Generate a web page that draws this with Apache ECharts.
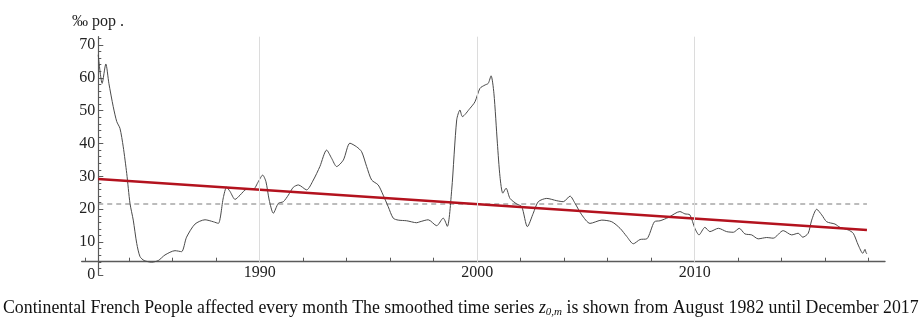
<!DOCTYPE html>
<html>
<head>
<meta charset="utf-8">
<script src="https://cdn.jsdelivr.net/npm/echarts@6/dist/echarts.min.js"></script>
<style>html,body{margin:0;padding:0;background:#fff}#c{width:923px;height:322px}</style>
</head>
<body>
<div id="c"></div>
<script>
const years = [1982.58,1982.76,1982.93,1983.07,1983.27,1983.43,1983.58,1983.73,1983.89,1984.04,1984.19,1984.35,1984.50,1984.69,1985.04,1985.34,1985.65,1986.11,1986.41,1986.64,1987.03,1987.49,1987.87,1988.10,1988.33,1988.48,1988.64,1988.87,1989.10,1989.40,1989.71,1989.94,1990.14,1990.29,1990.44,1990.63,1990.86,1991.09,1991.32,1991.55,1991.78,1992.16,1992.47,1992.77,1993.08,1993.31,1993.54,1993.85,1994.15,1994.46,1994.69,1994.92,1995.15,1995.45,1995.68,1995.91,1996.14,1996.37,1996.76,1997.22,1997.37,1997.75,1998.14,1998.44,1998.63,1998.83,1999.06,1999.21,1999.32,1999.67,1999.90,2000.13,2000.36,2000.51,2000.64,2000.77,2000.93,2001.05,2001.18,2001.33,2001.51,2001.82,2002.05,2002.31,2002.58,2002.81,2003.20,2003.66,2003.96,2004.27,2004.50,2004.81,2005.19,2005.73,2006.19,2006.57,2006.88,2007.18,2007.49,2007.80,2008.15,2008.41,2008.79,2009.32,2009.55,2009.78,2010.01,2010.20,2010.47,2010.70,2011.09,2011.47,2011.78,2012.05,2012.31,2012.62,2012.92,2013.31,2013.61,2014.07,2014.46,2014.76,2014.97,2015.22,2015.38,2015.61,2015.84,2016.07,2016.45,2016.68,2017.06,2017.29,2017.52,2017.73,2017.83,2017.88,2017.92];
const rate = [67.0,58.3,64.2,58.3,51.2,46.7,44.6,39.0,30.9,21.8,16.7,9.6,5.6,4.4,3.9,4.4,6.1,7.4,7.1,11.5,15.5,16.8,16.2,15.7,23.5,26.7,25.4,23.0,24.3,26.1,26.1,28.4,30.4,28.4,22.8,18.8,21.8,22.3,24.3,26.7,27.4,25.9,28.9,33.0,38.0,35.5,33.0,35.0,40.1,39.0,37.5,33.0,28.9,27.4,24.3,20.8,17.3,16.7,16.5,15.9,16.2,16.8,15.0,17.3,14.8,25.9,47.2,50.2,48.2,50.7,52.7,56.8,57.8,58.3,60.6,55.3,40.1,29.9,24.9,26.4,23.3,21.6,20.8,14.7,18.8,22.3,23.3,22.6,22.3,24.0,21.8,18.3,15.7,16.7,16.2,14.2,11.7,9.5,10.8,11.0,16.2,16.5,17.5,19.3,18.6,18.3,14.2,12.2,14.5,13.2,14.2,13.2,13.0,14.2,12.5,12.2,11.0,11.4,11.2,13.5,12.2,12.7,11.5,12.7,16.7,20.0,18.3,16.2,15.5,14.5,13.7,12.7,9.1,6.6,7.8,6.8,6.4];
const meanLevel = 21.6;
const trendStart = 29.2, trendEnd = 13.7;
const dataStart = 1982.58, dataEnd = 2017.92;
const xLabelYears = [1990, 2000, 2010];
const xTickYears = [1982,1984,1986,1988,1990,1992,1994,1996,1998,2000,2002,2004,2006,2008,2010,2012,2014,2016,2018];
const yLabelValues = [0,10,20,30,40,50,60,70];
const yMinorValues = [2,4,6,8,12,14,16,18,22,24,26,28,32,34,36,38,42,44,46,48,52,54,56,58,62,64,66,68,72];
const gridYears = [1990, 2000, 2010];

const serif = 'Liberation Serif';
const seriesData = years.map((y, i) => [y, rate[i]]);
const xMin = 1981.82, xMax = 2018.75, yMin = 0, yMax = 72.5, xAxisLevel = 4;

const chart = echarts.init(document.getElementById('c'), null, {renderer: 'canvas'});
const cap = {fontFamily: serif, fontSize: 17.8, fontWeight: 'normal', color: '#111'};
chart.setOption({
  animation: false,
  backgroundColor: '#fff',
  title: [
    {text: '‰ pop .', left: 72, top: 14, padding: 0,
     textStyle: {fontFamily: serif, fontSize: 16, fontWeight: 'normal', color: '#222'}},
    {left: 3, top: 298, padding: 0,
     text: '{n|Continental French People affected every month The smoothed time series }{i|z}{s|0,m}{n| is shown from August 1982 until December 2017}',
     textStyle: {fontWeight: 'normal', rich: {
       n: cap,
       i: Object.assign({}, cap, {fontStyle: 'italic'}),
       s: Object.assign({}, cap, {fontSize: 11, fontStyle: 'italic', padding: [9, 0, 0, 0]})
     }}}
  ],
  grid: {left: 81.7, right: 38, top: 36.7, bottom: 47, outerBoundsMode: 'none', containLabel: false},
  xAxis: {
    type: 'value', min: xMin, max: xMax, position: 'bottom', offset: -13.3,
    splitLine: {show: false},
    axisLine: {onZero: false, lineStyle: {color: '#5a5a5a', width: 1.4}},
    axisTick: {inside: true, length: 4, customValues: xTickYears, lineStyle: {color: '#5a5a5a', width: 1}},
    axisLabel: {customValues: xLabelYears, margin: 3, fontFamily: serif, fontSize: 16, color: '#222',
                formatter: v => String(Math.round(v))}
  },
  yAxis: [{
    type: 'value', min: yMin, max: yMax, position: 'left', offset: -16.6,
    splitLine: {show: false},
    axisLine: {onZero: false, lineStyle: {color: '#5a5a5a', width: 1.2}},
    axisTick: {inside: true, length: 5, customValues: yLabelValues, lineStyle: {color: '#5a5a5a', width: 1}},
    axisLabel: {customValues: yLabelValues, margin: 3, fontFamily: serif, fontSize: 16, color: '#222'}
  }, {
    type: 'value', min: yMin, max: yMax, position: 'left', offset: -16.6,
    splitLine: {show: false},
    axisLine: {show: false, onZero: false},
    axisTick: {inside: true, length: 3, customValues: yMinorValues, lineStyle: {color: '#5a5a5a', width: 1}},
    axisLabel: {show: false}
  }],
  series: [
    {
      type: 'line', data: seriesData, showSymbol: false, smooth: 0.25,
      lineStyle: {color: '#4a4a4a', width: 1}, z: 3,
      markLine: {
        silent: true, symbol: 'none', label: {show: false},
        lineStyle: {color: '#dcdcdc', width: 1, type: 'solid'},
        data: gridYears.map(g => [{coord: [g, xAxisLevel]}, {coord: [g, yMax]}])
      }
    },
    {
      type: 'line', data: [[dataStart, meanLevel], [dataEnd, meanLevel]], showSymbol: false,
      lineStyle: {color: '#7a7a7a', width: 1.2, type: [5, 4]}, z: 2
    },
    {
      type: 'line', data: [[dataStart, trendStart], [dataEnd, trendEnd]], showSymbol: false,
      lineStyle: {color: '#b3121e', width: 2.6}, z: 4
    }
  ]
});
</script>
</body>
</html>
